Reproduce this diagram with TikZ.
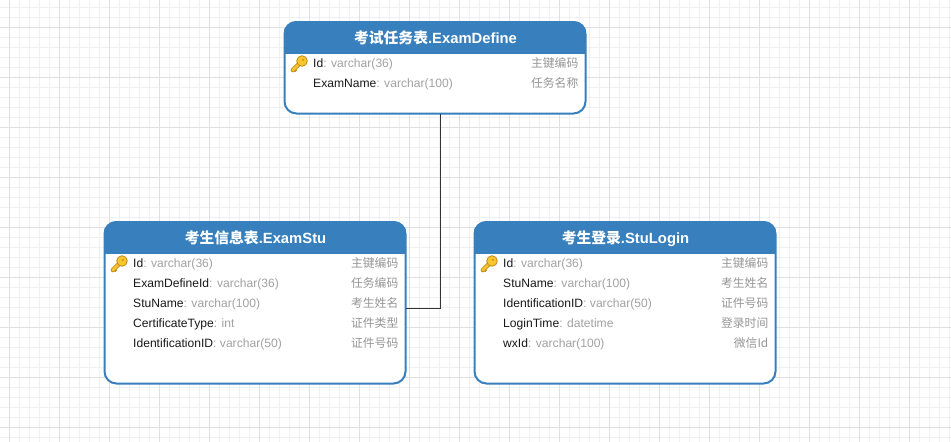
\documentclass[tikz,border=0pt]{standalone}
\usepackage{fontspec}
\setmainfont{Liberation Sans}
\newfontfamily\cjk{Noto Sans CJK SC}
\definecolor{headblue}{HTML}{3780BD}
\definecolor{typegray}{HTML}{A2A2A2}
\definecolor{notegray}{HTML}{969696}
\definecolor{gridminor}{HTML}{F0F0F0}
\definecolor{gridmajor}{HTML}{E0E0E0}
\definecolor{keygold}{HTML}{F9C62F}
\definecolor{keyedge}{HTML}{C08A14}
\tikzset{
    tablebox/.style={draw=headblue,line width=2pt,rounded corners=12pt,fill=white,outer sep=0pt,
        inner sep=0pt,minimum width=301pt,anchor=north west},
    tabletitle/.style={text=white,font=\fontsize{14.8}{16}\selectfont\bfseries,anchor=base,inner sep=0pt},
    fieldname/.style={anchor=base west,inner sep=0pt,text=black!90,font=\fontsize{12.1}{14}\selectfont},
    fieldnote/.style={anchor=base east,inner sep=0pt,text=notegray,font=\fontsize{11.8}{14}\selectfont},
    link/.style={draw=black!80,line width=1pt},
}
% one table: name, left, top, height, title
\newcommand{\tbl}[5]{
    \node[tablebox,minimum height=#4 pt] (#1) at (#2,#3) {};
    \begin{scope}
        \clip[rounded corners=13pt] (#2-1,#3-1) rectangle (#2+302,#3+#4+1);
        \fill[headblue] (#2-1,#3-1) rectangle (#2+302,#3+32);
    \end{scope}
    \node[tabletitle] (#1title) at (#2+151,#3+21) {#5};
}
% gold key in front of the primary key field
\newcommand{\keyicon}[3]{
    \begin{scope}[shift={(#2,#3)}]
        \draw[keyedge,line width=4.4pt,line cap=round] (-7.6,7.6) -- (0,0);
        \draw[keyedge,line width=2.4pt] (-6,8.6) -- (-4.4,7);
        \draw[keygold,line width=2.8pt,line cap=round] (-7.6,7.6) -- (0,0);
        \node[circle,draw=keyedge,fill=keygold,line width=.8pt,minimum size=10.6pt,inner sep=0pt] (#1) at (1.5,-1.5) {};
        \fill[keyedge] (2.4,-2.6) circle (1pt);
    \end{scope}
}
\begin{document}
\begin{tikzpicture}[x=1pt,y=-1pt]
    \useasboundingbox (0,0) rectangle (951,442);
    \fill[white] (0,0) rectangle (951,442);
    % background grid
    \foreach \x in {0,...,94} \draw[gridminor,line width=1pt] (9.5+10*\x,0) -- (9.5+10*\x,442);
    \foreach \y in {0,...,43} \draw[gridminor,line width=1pt] (0,7.5+10*\y) -- (951,7.5+10*\y);
    \foreach \x in {0,...,18} \draw[gridmajor,line width=1pt] (9.5+50*\x,0) -- (9.5+50*\x,442);
    \foreach \y in {0,...,8} \draw[gridmajor,line width=1pt] (0,27.5+50*\y) -- (951,27.5+50*\y);

    \tbl{examdefine}{284.5}{22}{91.5}{{\cjk 考试任务表}.ExamDefine}
    \tbl{examstu}{104.5}{222}{161.5}{{\cjk 考生信息表}.ExamStu}
    \tbl{stulogin}{474.5}{222}{161.5}{{\cjk 考生登录}.StuLogin}

    \draw[link] ([xshift=5.5pt]examdefine.south) |- ([yshift=-5.7pt]examstu.east);

    \keyicon{keydefine}{300.5}{62.5}
    \keyicon{keystu}{120.5}{262.5}
    \keyicon{keylogin}{490.5}{262.5}

    \foreach \y/\fname/\ftype/\fnote in {67/Id/varchar(36)/主键编码,87/ExamName/varchar(100)/任务名称}
        {
        \node[fieldname] (def\y) at (313,\y) {\fname\textcolor{typegray}{: \ftype}};
        \node[fieldnote] (defnote\y) at (578.5,\y) {\cjk\fnote};
        }
    \foreach \y/\fname/\ftype/\fnote in {267/Id/varchar(36)/主键编码,287/ExamDefineId/varchar(36)/任务编码,307/StuName/varchar(100)/考生姓名,327/CertificateType/int/证件类型,347/IdentificationID/varchar(50)/证件号码}
        {
        \node[fieldname] (stu\y) at (133,\y) {\fname\textcolor{typegray}{: \ftype}};
        \node[fieldnote] (stunote\y) at (398.5,\y) {\cjk\fnote};
        }
    \foreach \y/\fname/\ftype/\fnote in {267/Id/varchar(36)/主键编码,287/StuName/varchar(100)/考生姓名,307/IdentificationID/varchar(50)/证件号码,327/LoginTime/datetime/登录时间,347/wxId/varchar(100)/微信Id}
        {
        \node[fieldname] (log\y) at (503,\y) {\fname\textcolor{typegray}{: \ftype}};
        \node[fieldnote] (lognote\y) at (768.5,\y) {\cjk\fnote};
        }
\end{tikzpicture}
\end{document}
